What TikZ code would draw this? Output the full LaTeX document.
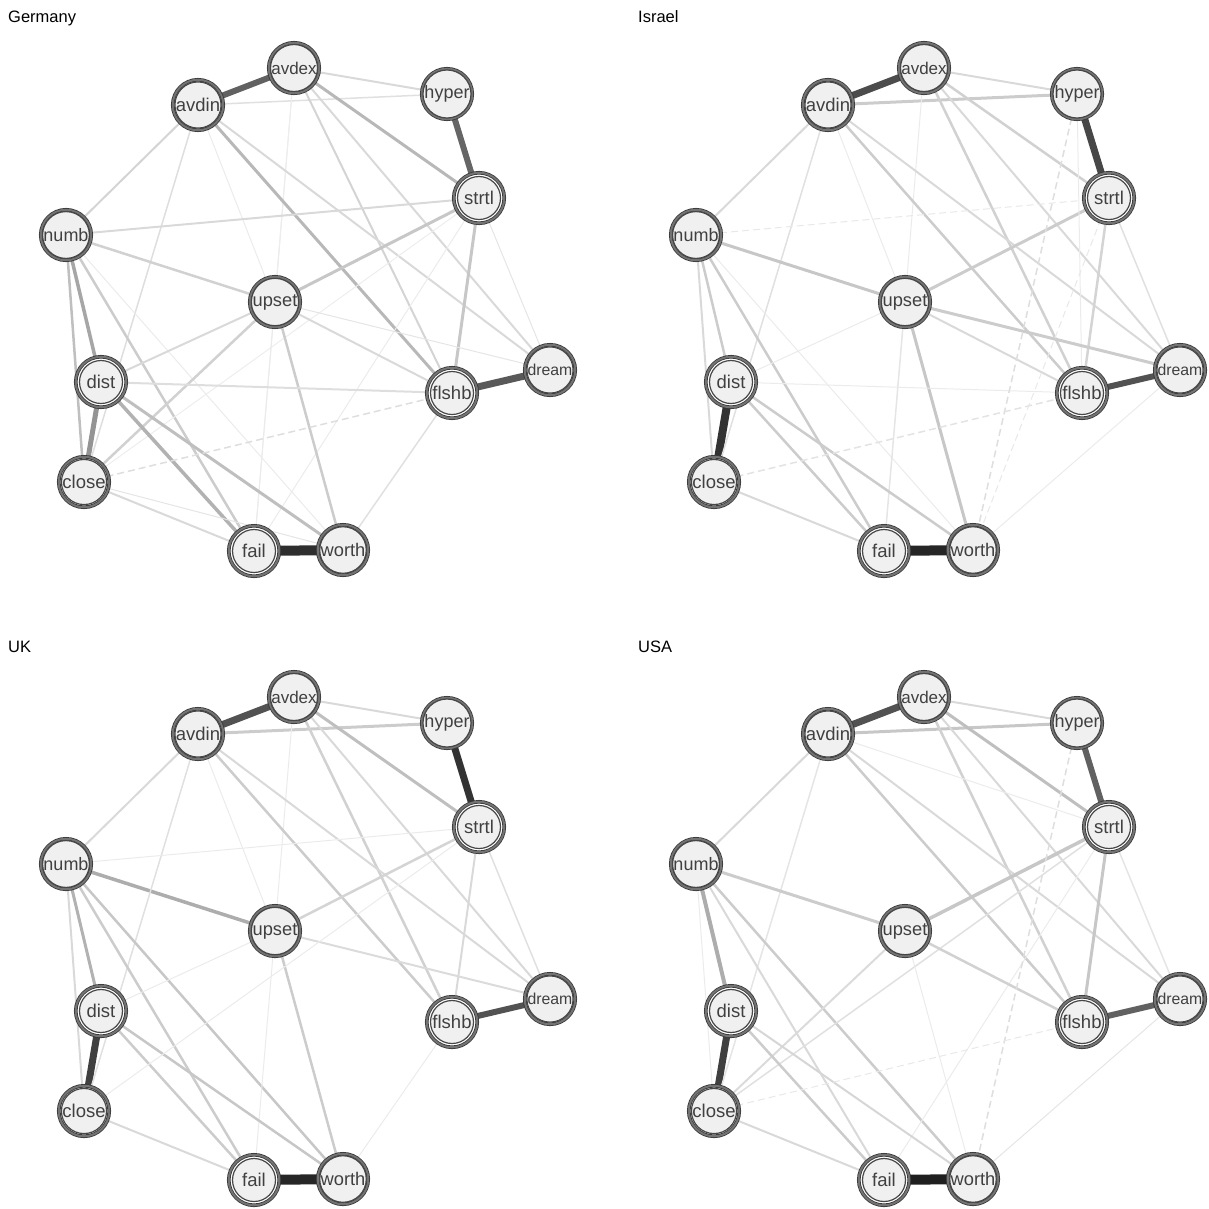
\documentclass[tikz,border=0pt]{standalone}
\usepackage{fontspec}
\setmainfont{Liberation Sans}
\usetikzlibrary{backgrounds}

\newcommand{\netnodes}[1]{%
  \foreach \n/\x/\y/\s in {avdex/294/68/17, avdin/198/105/18.5, hyper/447/94/18,
    strtl/479/198/18.5, numb/66/235/18, upset/275/302/18.3, dream/550/370/15.8,
    flshb/452/393/18.5, dist/101/382/18.5, close/84/482/18.5, fail/254/551/18.5,
    worth/343/550/18.3}
  {
    \node[ring] at (\x,\y) {};
    \node[vtx] (#1-\n) at (\x,\y) {\fontsize{\s}{\s}\selectfont\n};
  }}

\begin{document}
\begin{tikzpicture}[
  x=1pt,y=-1pt,
  ring/.style={circle,inner sep=0pt,minimum size=50.5pt,fill=white,
    draw=black!78,double=black!55,double distance=2pt,line width=0.8pt},
  vtx/.style={circle,inner sep=0pt,minimum size=43pt,fill=black!6,
    draw=black!72,line width=1.2pt,text=black!75},
  neg/.style={dash pattern=on 7pt off 4pt},
  title/.style={anchor=base west,inner sep=0pt,font=\fontsize{16.5}{16.5}\selectfont}]
  \useasboundingbox (0,0) rectangle (1209,1208);

  % Germany
  \node[title] (t-de) at (8,22) {Germany};
  \begin{scope}
    \netnodes{de}
    \begin{scope}[on background layer]
      \foreach \a/\b/\w/\k in {
        fail/worth/10/82, avdin/avdex/6/62, hyper/strtl/6/60, flshb/dream/7/65,
        dist/close/5/42, numb/dist/3.5/35, numb/close/2.5/25, avdex/hyper/2/15,
        avdin/hyper/1.5/12, avdex/strtl/3/28, avdex/flshb/2/17, avdex/dream/2/15,
        avdex/upset/1/8, avdex/fail/1/7, avdin/numb/2/17, avdin/flshb/3/28,
        avdin/dream/2/15, avdin/close/1.5/13, avdin/upset/1/8, numb/strtl/2/15,
        numb/upset/2.5/18, numb/fail/2.5/20, numb/worth/1/8, strtl/upset/3/22,
        strtl/flshb/3/22, strtl/dream/1/10, strtl/fail/1/8, strtl/close/1/7,
        upset/flshb/2/15, upset/dist/2/15, upset/close/2.5/18, upset/worth/2.5/20,
        upset/fail/1/8, upset/dream/1/10, dist/flshb/2/13, dist/fail/3.5/30,
        dist/worth/3/25, close/fail/2/15, close/worth/1/10, flshb/worth/1.5/12}
        \draw[line width=\w pt,draw=black!\k] (de-\a) -- (de-\b);
      \draw[neg,line width=1.5pt,draw=black!13] (de-close) -- (de-flshb);
    \end{scope}
  \end{scope}

  % Israel
  \node[title] (t-il) at (638,22) {Israel};
  \begin{scope}[shift={(630,0)}]
    \netnodes{il}
    \begin{scope}[on background layer]
      \foreach \a/\b/\w/\k in {
        fail/worth/10/85, avdin/avdex/7/70, hyper/strtl/7/72, flshb/dream/6/68,
        dist/close/8/80, avdex/hyper/2/15, avdin/hyper/3/20, avdex/strtl/2.5/18,
        avdex/flshb/2.5/18, avdex/dream/2/15, avdex/upset/1/8, avdin/numb/2/15,
        avdin/flshb/2.5/20, avdin/dream/2/15, avdin/close/1.5/12, avdin/upset/1/8,
        numb/upset/3/22, numb/dist/2.5/20, numb/close/2/15, numb/fail/2.5/20,
        numb/worth/1/8, strtl/upset/3/20, strtl/flshb/2.5/17, strtl/dream/1.5/12,
        hyper/flshb/1/8, upset/flshb/2/15, upset/dream/3/20, upset/worth/3/22,
        upset/fail/1.5/10, upset/dist/1/8, dist/fail/2.5/20, dist/worth/2.5/20,
        close/fail/2/15, worth/dream/1/8, dist/flshb/1/8}
        \draw[line width=\w pt,draw=black!\k] (il-\a) -- (il-\b);
      \foreach \a/\b/\w/\k in {
        hyper/worth/1.5/13, numb/strtl/1/9, close/flshb/1.5/11, strtl/worth/1/9}
        \draw[neg,line width=\w pt,draw=black!\k] (il-\a) -- (il-\b);
    \end{scope}
  \end{scope}

  % UK
  \node[title] (t-uk) at (8,652) {UK};
  \begin{scope}[shift={(0,629)}]
    \netnodes{uk}
    \begin{scope}[on background layer]
      \foreach \a/\b/\w/\k in {
        fail/worth/10/85, avdin/avdex/7/68, hyper/strtl/7/80, flshb/dream/6/68,
        dist/close/7/75, numb/dist/3/30, numb/close/2/15, numb/upset/3.5/32,
        avdex/hyper/2/15, avdin/hyper/3/20, avdex/strtl/3/25, avdex/flshb/2.5/18,
        avdex/dream/2/15, avdex/upset/1/8, avdin/numb/2/15, avdin/flshb/2.5/20,
        avdin/close/1.5/12, avdin/dream/2/15, avdin/upset/1/8, numb/fail/2.5/20,
        numb/worth/2.5/22, numb/strtl/1/8, strtl/upset/2.5/17, strtl/flshb/2/15,
        strtl/dream/1.5/12, upset/dream/2/14, upset/worth/2.5/20, upset/fail/1/8,
        dist/fail/2.5/20, dist/worth/2.5/22, close/fail/2/15, flshb/worth/1/8,
        dist/upset/1/8, close/strtl/1/8}
        \draw[line width=\w pt,draw=black!\k] (uk-\a) -- (uk-\b);
    \end{scope}
  \end{scope}

  % USA
  \node[title] (t-us) at (638,652) {USA};
  \begin{scope}[shift={(630,629)}]
    \netnodes{us}
    \begin{scope}[on background layer]
      \foreach \a/\b/\w/\k in {
        fail/worth/10/88, avdin/avdex/7/68, hyper/strtl/6/62, flshb/dream/6/62,
        dist/close/7/75, numb/dist/4/32, avdex/hyper/2/15, avdin/hyper/3/22,
        avdex/strtl/3/25, avdex/flshb/2.5/18, avdex/dream/2/15, avdin/numb/2/15,
        avdin/flshb/2.5/20, avdin/dream/2/15, avdin/close/1.5/10, avdin/strtl/1/8,
        numb/upset/3/20, numb/fail/2/15, numb/worth/2.5/20, numb/close/1/8,
        strtl/upset/3.5/22, strtl/flshb/3/22, strtl/dream/1.5/10, strtl/close/1.5/12,
        strtl/fail/1/8, upset/flshb/2.5/18, upset/close/2/14, upset/worth/1/8,
        dist/fail/2.5/20, dist/worth/2/16, close/fail/2/15, worth/dream/1/10}
        \draw[line width=\w pt,draw=black!\k] (us-\a) -- (us-\b);
      \foreach \a/\b/\w/\k in {hyper/worth/1.5/13, close/flshb/1/9}
        \draw[neg,line width=\w pt,draw=black!\k] (us-\a) -- (us-\b);
    \end{scope}
  \end{scope}
\end{tikzpicture}
\end{document}
